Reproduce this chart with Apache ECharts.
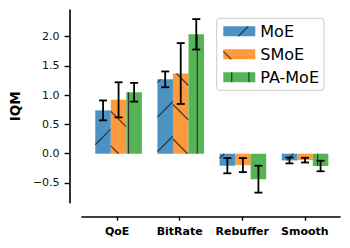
<!DOCTYPE html>
<html>
<head>
<meta charset="utf-8">
<script src="https://cdn.jsdelivr.net/npm/echarts@6/dist/echarts.min.js"></script>
<style>html,body{margin:0;padding:0;background:#fff}#c{width:350px;height:248px}</style>
</head>
<body>
<div id="c"></div>
<script>
// ---- data ----
const categories = ['QoE', 'BitRate', 'Rebuffer', 'Smooth'];
const seriesNames = ['MoE', 'SMoE', 'PA-MoE'];
const moeValues = [0.74, 1.27, -0.205, -0.115];
const moeErrors = [0.17, 0.135, 0.13, 0.05];
const smoeValues = [0.92, 1.37, -0.195, -0.11];
const smoeErrors = [0.30, 0.52, 0.12, 0.04];
const pamoeValues = [1.05, 2.04, -0.435, -0.21];
const pamoeErrors = [0.16, 0.26, 0.23, 0.09];
const yTickValues = [-0.5, 0.0, 0.5, 1.0, 1.5, 2.0];
const xTickValues = [0, 1, 2, 3];

// ---- styles ----
const FONT = 'DejaVu Sans';
const colors = ['#4c92c3', '#ff993e', '#56b356'];
const hatchTypes = ['ne', 'nw', 'v'];
const BAR_W = 0.25;
const offsets = [-0.25, 0, 0.25];
const HATCH_COLOR = 'rgba(30,30,30,0.8)';
const X_MIN = -0.5625, X_MAX = 3.5625;

function hatchSegments(type, x0, y0, x1, y1) {
  const segs = [];
  if (type === 'ne') {
    const P = 34.5, C0 = 240;
    let k = Math.ceil((x0 + y0 - C0) / P);
    for (let c = C0 + k * P; c <= x1 + y1; c += P) {
      const xa = Math.max(x0, c - y1), xb = Math.min(x1, c - y0);
      if (xb - xa > 0.5) segs.push([xa, c - xa, xb, c - xb]);
    }
  } else if (type === 'nw') {
    const P = 34.5, D0 = -0.5;
    let k = Math.ceil((x0 - y1 - D0) / P);
    for (let d = D0 + k * P; d <= x1 - y0; d += P) {
      const xa = Math.max(x0, d + y0), xb = Math.min(x1, d + y1);
      if (xb - xa > 0.5) segs.push([xa, xa - d, xb, xb - d]);
    }
  } else {
    const P = 17.2, X0 = 128.5;
    let k = Math.ceil((x0 - X0) / P);
    for (let x = X0 + k * P; x <= x1; x += P) {
      if (x - x0 > 0.8 && x1 - x > 0.8) segs.push([x, y0, x, y1]);
    }
  }
  return segs;
}

function hatchElems(type, x0, y0, x1, y1) {
  return hatchSegments(type, x0, y0, x1, y1).map(s => ({
    type: 'line', silent: true,
    shape: {x1: s[0], y1: s[1], x2: s[2], y2: s[3]},
    style: {stroke: HATCH_COLOR, lineWidth: 1.2}
  }));
}

function makeRender(si) {
  return function (params, api) {
    const xi = api.value(0), v = api.value(1), e = api.value(2);
    const xc = xi + offsets[si];
    const pA = api.coord([xc - BAR_W / 2, v]);
    const pB = api.coord([xc + BAR_W / 2, 0]);
    const x0 = pA[0], x1 = pB[0];
    const y0 = Math.min(pA[1], pB[1]), y1 = Math.max(pA[1], pB[1]);
    const children = [{
      type: 'rect', shape: {x: x0, y: y0, width: x1 - x0, height: y1 - y0},
      style: {fill: colors[si]}
    }];
    children.push(...hatchElems(hatchTypes[si], x0, y0, x1, y1));
    const t = api.coord([xc, v + e]), b = api.coord([xc, v - e]);
    const cap = 4;
    const st = {stroke: '#000', lineWidth: 1.8};
    children.push({type: 'line', shape: {x1: t[0], y1: t[1], x2: b[0], y2: b[1]}, style: st});
    children.push({type: 'line', shape: {x1: t[0] - cap, y1: t[1], x2: t[0] + cap, y2: t[1]}, style: st});
    children.push({type: 'line', shape: {x1: b[0] - cap, y1: b[1], x2: b[0] + cap, y2: b[1]}, style: st});
    return {type: 'group', children};
  };
}

const valueSets = [moeValues, smoeValues, pamoeValues];
const errorSets = [moeErrors, smoeErrors, pamoeErrors];
const series = seriesNames.map((name, si) => ({
  name, type: 'custom',
  xAxisIndex: 0, yAxisIndex: 0,
  renderItem: makeRender(si),
  itemStyle: {color: colors[si]},
  encode: {x: 0, y: 1},
  data: categories.map((c, i) => [i, valueSets[si][i], errorSets[si][i]])
}));

// hatch overlays on the legend patches
const legendPatchX = 223.3, legendPatchW = 32, legendCenters = [31.3, 54.3, 77.3];
const legendGraphics = [];
legendCenters.forEach((cy, si) => {
  legendGraphics.push(...hatchElems(hatchTypes[si], legendPatchX, cy - 5, legendPatchX + legendPatchW, cy + 5)
    .map(g => Object.assign(g, {z: 100})));
});

const chart = echarts.init(document.getElementById('c'), null, {renderer: 'svg'});
chart.setOption({
  animation: false,
  backgroundColor: '#fff',
  textStyle: {fontFamily: FONT},
  grid: [
    {left: 82, right: 10, top: 10, bottom: 45.3},
    {left: 82, right: 10, top: 206.7, bottom: 31.3}
  ],
  legend: {
    show: true, orient: 'vertical', left: 216.7, top: 18.3,
    padding: [5, 5, 5, 6.6], itemWidth: 32, itemHeight: 10, itemGap: 7, itemTextGap: 13,
    icon: 'rect', borderColor: '#cccccc', borderWidth: 1, borderRadius: 3,
    backgroundColor: '#fff',
    textStyle: {fontSize: 16, fontFamily: FONT, color: '#000', lineHeight: 16},
    data: seriesNames
  },
  xAxis: [{
    gridIndex: 0, type: 'value', min: X_MIN, max: X_MAX, show: false
  }, {
    gridIndex: 1, type: 'value', min: X_MIN, max: X_MAX, position: 'bottom',
    axisLine: {show: true, onZero: false, lineStyle: {color: '#000', width: 1.6}},
    axisTick: {show: true, customValues: xTickValues, length: 4, lineStyle: {color: '#000', width: 1.4}},
    axisLabel: {customValues: xTickValues, formatter: v => categories[Math.round(v)], fontWeight: 'bold',
      fontSize: 11, fontFamily: FONT, color: '#000', margin: 9},
    splitLine: {show: false}
  }],
  yAxis: [{
    gridIndex: 0, type: 'value', min: -0.837, max: 2.455, offset: 14,
    name: 'IQM', nameLocation: 'middle', nameGap: 46,
    nameTextStyle: {fontWeight: 'bold', fontSize: 13.5, fontFamily: FONT, color: '#000'},
    axisLine: {show: true, onZero: false, lineStyle: {color: '#000', width: 1.6}},
    axisTick: {show: true, customValues: yTickValues, length: 5, lineStyle: {color: '#000', width: 1.4}},
    axisLabel: {customValues: yTickValues, formatter: v => v.toFixed(1).replace('-', '\u2212'),
      fontSize: 11, fontFamily: FONT, color: '#111', margin: 10},
    splitLine: {show: false}
  }, {
    gridIndex: 1, type: 'value', min: 0, max: 1, show: false
  }],
  graphic: legendGraphics,
  series
});
</script>
</body>
</html>
